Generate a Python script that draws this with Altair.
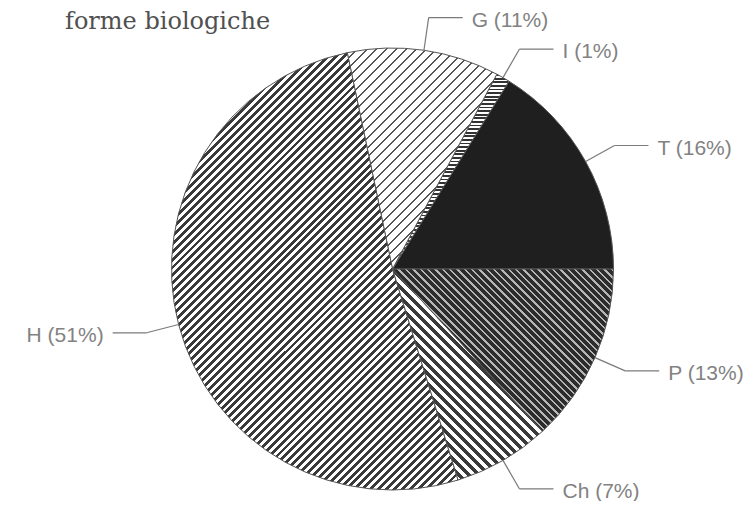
import math
import altair as alt
import pandas as pd

# ---- data ----
cats = ["T", "I", "G", "H", "Ch", "P"]
pcts = [16, 1, 11, 51, 7, 13]
labels = ["T (16%)", "I (1%)", "G (11%)", "H (51%)", "Ch (7%)", "P (13%)"]
title_text = "forme biologiche"

# ---- layout / style ----
W, HGT = 737, 493
CX, CY = 384.5, 261.0
R = 221
R_ELB = 254
HLEN = 34
GAP = 9

# hatch style per slice: (normal angle deg (screen, y down) or None, period px, dark fraction, dark, light)
patterns = {
    "T": (None, 0, 0, "#1f1f1f", "#1f1f1f"),
    "I": (90, 3.6, 0.5, "#333333", "#ffffff"),
    "G": (45, 7.0, 0.2, "#555555", "#ffffff"),
    "H": (45, 5.6, 0.5, "#3a3a3a", "#ffffff"),
    "Ch": (-45, 7.0, 0.5, "#3a3a3a", "#ffffff"),
    "P": (-45, 5.2, 0.68, "#2c2c2c", "#b5b5b5"),
}

total = float(sum(pcts))


def wedge_bbox(a0, a1):
    pts = [(0.0, 0.0)]
    for a in (a0, a1):
        pts.append((R * math.cos(math.radians(a)), -R * math.sin(math.radians(a))))
    for k in range(0, 361, 90):
        if a0 < k < a1:
            pts.append((R * math.cos(math.radians(k)), -R * math.sin(math.radians(k))))
    xs = [p[0] for p in pts]
    ys = [p[1] for p in pts]
    return max(xs) - min(xs), max(ys) - min(ys)


def stripe_fill(bw, bh, ang, period, frac, dark, light):
    if ang is None:
        return dark
    ux, uy = math.cos(math.radians(ang)), math.sin(math.radians(ang))
    L = abs(ux) * bw + abs(uy) * bh
    lam = L / (ux * ux * bw * bw + uy * uy * bh * bh)
    x1 = 0.0 if ux >= 0 else 1.0
    y1 = 0.0 if uy >= 0 else 1.0
    x2 = x1 + lam * ux * bw
    y2 = y1 + lam * uy * bh
    stops = []
    n = int(math.ceil(L / period))
    for k in range(n):
        o0 = min(1.0, k * period / L)
        o1 = min(1.0, (k + frac) * period / L)
        o2 = min(1.0, (k + 1) * period / L)
        stops += [
            {"offset": o0, "color": dark},
            {"offset": o1, "color": dark},
            {"offset": o1, "color": light},
            {"offset": o2, "color": light},
        ]
    return {"gradient": "linear", "x1": x1, "y1": y1, "x2": x2, "y2": y2, "stops": stops}


df = pd.DataFrame({"cat": cats, "pct": pcts, "label": labels, "ord": list(range(len(cats)))})

base = alt.Chart(df).transform_window(
    cum="sum(pct)", sort=[alt.SortField("ord")], frame=[None, 0]
).transform_calculate(
    start="datum.cum - datum.pct",
    end="datum.cum",
    ang=f"2*PI*(datum.cum - datum.pct/2)/{total}",
).transform_calculate(
    ex=f"{CX} + {R}*cos(datum.ang)",
    ey=f"{CY} - {R}*sin(datum.ang)",
    bx=f"{CX} + {R_ELB}*cos(datum.ang)",
    by=f"{CY} - {R_ELB}*sin(datum.ang)",
    side="cos(datum.ang) >= 0 ? 1 : -1",
).transform_calculate(
    hx=f"datum.bx + datum.side*{HLEN}",
    tx=f"datum.bx + datum.side*{HLEN + GAP}",
    ty="datum.by + 3",
)

theta_scale = alt.Scale(domain=[0, total], range=[2.5 * math.pi, 0.5 * math.pi])

layers = []
cum = 0.0
for c, p in zip(cats, pcts):
    a0 = cum / total * 360
    a1 = (cum + p) / total * 360
    cum += p
    bw, bh = wedge_bbox(a0, a1)
    ang, period, frac, dark, light = patterns[c]
    fill = stripe_fill(bw, bh, ang, period, frac, dark, light)
    layers.append(
        base.transform_filter(alt.datum.cat == c)
        .mark_arc(fill=fill, stroke="#555555", strokeWidth=1, outerRadius=R)
        .encode(
            theta=alt.Theta("start:Q", scale=theta_scale, stack=None),
            theta2="end:Q",
            x=alt.value(CX),
            y=alt.value(CY),
        )
    )

radial = base.mark_rule(color="#7a7a7a", strokeWidth=1.2).encode(
    x=alt.X("ex:Q", scale=None, axis=None),
    y=alt.Y("ey:Q", scale=None, axis=None),
    x2="bx:Q",
    y2="by:Q",
)
horiz = base.mark_rule(color="#7a7a7a", strokeWidth=1.2).encode(
    x=alt.X("bx:Q", scale=None, axis=None),
    y=alt.Y("by:Q", scale=None, axis=None),
    x2="hx:Q",
    y2="by:Q",
)

txt_style = dict(baseline="middle", font="Liberation Sans", fontSize=21, color="#828282")
text_right = base.transform_filter("datum.side > 0").mark_text(align="left", **txt_style).encode(
    x=alt.X("tx:Q", scale=None, axis=None),
    y=alt.Y("ty:Q", scale=None, axis=None),
    text="label:N",
)
text_left = base.transform_filter("datum.side < 0").mark_text(align="right", **txt_style).encode(
    x=alt.X("tx:Q", scale=None, axis=None),
    y=alt.Y("ty:Q", scale=None, axis=None),
    text="label:N",
)

title = alt.Chart(pd.DataFrame({"t": [title_text]})).mark_text(
    align="left", baseline="alphabetic", font="DejaVu Serif", fontSize=24, color="#505050"
).encode(x=alt.value(57), y=alt.value(21), text="t:N")

chart = alt.layer(*layers, radial, horiz, text_right, text_left, title).properties(
    width=W, height=HGT, padding=0, autosize=alt.AutoSizeParams(type="none")
).configure_view(stroke=None)

chart.save("out.html", embed_options={"renderer": "svg", "actions": False})
